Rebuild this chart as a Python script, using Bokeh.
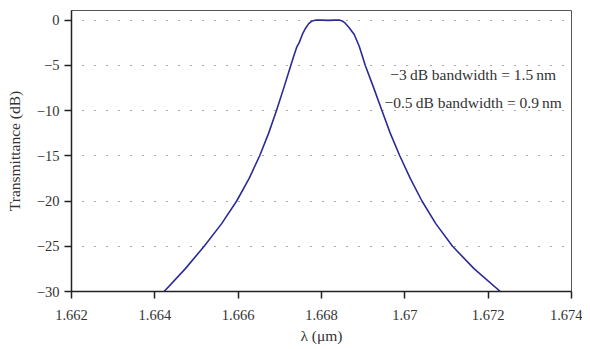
from bokeh.plotting import figure
from bokeh.models import FixedTicker, Label, Range1d
from bokeh.embed import file_html
from bokeh.resources import INLINE

# --- data ---
wavelength_um = [1.664223, 1.664728, 1.665184, 1.665604, 1.665964, 1.666264, 1.666516,
                 1.666732, 1.666920, 1.667095, 1.667265, 1.667333, 1.667405, 1.667465,
                 1.667549, 1.667625, 1.667693, 1.667777, 1.667873, 1.668017, 1.668161,
                 1.668305, 1.668425, 1.668497, 1.668569, 1.668665, 1.668785, 1.668905,
                 1.668982, 1.669049, 1.669253, 1.669450, 1.669649, 1.669878, 1.670130,
                 1.670411, 1.670742, 1.671145, 1.671666, 1.672291]
transmittance_db = [-30.0, -27.5, -25.0, -22.5, -20.0, -17.5, -15.0,
                    -12.5, -10.0, -7.5, -5.0, -4.0, -3.0, -2.5,
                    -1.5, -0.85, -0.4, -0.1, 0.0, -0.01, -0.04,
                    -0.01, 0.0, -0.1, -0.35, -0.85, -1.6, -2.9,
                    -4.0, -5.0, -7.5, -10.0, -12.5, -15.0, -17.5,
                    -20.0, -22.5, -25.0, -27.5, -30.0]

x_ticks = [1.662, 1.664, 1.666, 1.668, 1.670, 1.672, 1.674]
x_tick_labels = ["1.662", "1.664", "1.666", "1.668", "1.67", "1.672", "1.674"]
y_ticks = [0, -5, -10, -15, -20, -25, -30]
y_tick_labels = ["0", "\u22125", "\u221210", "\u221215", "\u221220", "\u221225", "\u221230"]

annotations = ["\u22123\u2009dB bandwidth = 1.5\u2009nm", "\u22120.5\u2009dB bandwidth = 0.9\u2009nm"]
annotation_x = [1.67164, 1.67164]
annotation_y = [-6.0, -9.1]

FONT = "Liberation Serif"
TXT = "#333333"

p = figure(width=582, height=347, output_backend="svg", toolbar_location=None,
           x_range=Range1d(1.662, 1.674), y_range=Range1d(-30, 1.05),
           min_border_left=71, min_border_right=11, min_border_top=10,
           min_border_bottom=56)

p.line(wavelength_um, transmittance_db, line_color="#2B2B98", line_width=1.6)

for t, xx, yy in zip(annotations, annotation_x, annotation_y):
    p.add_layout(Label(x=xx, y=yy, text=t, text_align="center", text_baseline="middle",
                       text_font=FONT, text_font_size="15.5px", text_color=TXT))

p.xaxis.ticker = FixedTicker(ticks=x_ticks)
p.xaxis.major_label_overrides = {k: v for k, v in zip(x_ticks, x_tick_labels)}
p.yaxis.ticker = FixedTicker(ticks=y_ticks)
p.yaxis.major_label_overrides = {k: v for k, v in zip(y_ticks, y_tick_labels)}

for ax in (p.xaxis, p.yaxis):
    ax.minor_tick_line_color = None
    ax.major_tick_out = 7
    ax.major_tick_in = 0
    ax.axis_line_color = "#222222"
    ax.axis_line_width = 1.5
    ax.major_tick_line_color = "#222222"
    ax.major_tick_line_width = 1.5
    ax.major_label_text_font = FONT
    ax.major_label_text_font_size = "14.5px"
    ax.major_label_text_color = TXT
    ax.axis_label_text_font = FONT
    ax.axis_label_text_font_size = "15.5px"
    ax.axis_label_text_font_style = "normal"
    ax.axis_label_text_color = TXT

p.xaxis.axis_label = "\u03bb (\u03bcm)"
p.yaxis.axis_label = "Transmittance (dB)"
p.xaxis.major_label_standoff = 11
p.xaxis.axis_label_standoff = 4
p.yaxis.major_label_standoff = 5
p.yaxis.axis_label_standoff = 11

p.xgrid.grid_line_color = None
p.ygrid.grid_line_color = "#555555"
p.ygrid.grid_line_dash = "1 11"
p.ygrid.grid_line_dash_offset = 1
p.ygrid.grid_line_width = 1.2

p.outline_line_color = "#555555"
p.outline_line_width = 1
p.background_fill_color = "white"
p.border_fill_color = "white"

open("out.html", "w").write(file_html(p, INLINE))
